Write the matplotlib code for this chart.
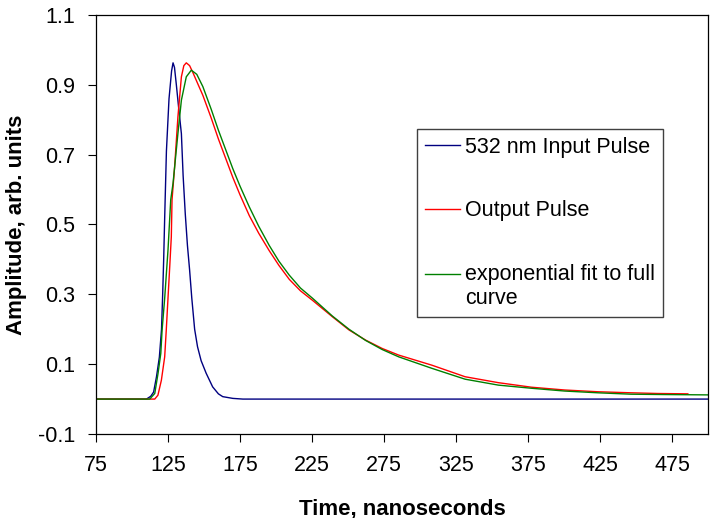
import numpy as np
import matplotlib
matplotlib.use('Agg')
import matplotlib.pyplot as plt

# values
blue_t = [75, 110, 113, 115, 117, 119, 120.5, 121.3, 122, 122.7, 123.9, 125.7, 127.5, 128.5,
          129.5, 130.8, 132.5, 134.3, 135.5, 137, 138.5, 140, 141.5, 143.5, 145.5, 148, 151.5,
          156, 160, 163, 170, 177, 500]
blue_a = [0, 0, 0.008, 0.02, 0.064, 0.12, 0.2, 0.3, 0.4, 0.52, 0.71, 0.86, 0.94, 0.963,
          0.95, 0.9, 0.83, 0.76, 0.64, 0.53, 0.44, 0.37, 0.29, 0.2, 0.15, 0.11, 0.074,
          0.035, 0.015, 0.007, 0.002, 0, 0]

red_t = [75, 115.8, 118, 120.4, 122.7, 123.8, 125, 126.2, 127.3, 127.8, 129.6, 131.9, 134.3,
         136, 137.7, 140, 142.3, 146, 149.2, 155, 160, 165, 170, 175, 181.5, 188, 195.3, 202,
         209.2, 217, 225.3, 239.1, 250.7, 262.2, 273.7, 285.2, 308.3, 331.3, 354.4, 377.4,
         400.5, 423.5, 446.6, 465, 486]
red_a = [0, 0, 0.011, 0.054, 0.121, 0.198, 0.289, 0.379, 0.465, 0.571, 0.665, 0.809, 0.923,
         0.955, 0.963, 0.955, 0.935, 0.9, 0.87, 0.805, 0.745, 0.69, 0.635, 0.585, 0.525, 0.475,
         0.425, 0.383, 0.343, 0.31, 0.283, 0.236, 0.198, 0.169, 0.145, 0.126, 0.097, 0.064,
         0.047, 0.034, 0.026, 0.021, 0.018, 0.016, 0.015]

green_t = [75, 112.3, 115.8, 118.1, 120, 120.9, 122.7, 125, 126.9, 128.5, 131.9, 134.3, 137.7,
           141.2, 145, 149.2, 155, 160, 165, 170, 175, 181.5, 188, 195.3, 202, 209.2, 217,
           225.3, 239.1, 250.7, 262.2, 273.7, 285.2, 308.3, 331.3, 354.4, 377.4, 400.5, 423.5,
           446.6, 470, 500]
green_a = [0, 0, 0.016, 0.074, 0.131, 0.198, 0.289, 0.427, 0.571, 0.618, 0.761, 0.856, 0.923,
           0.942, 0.93, 0.895, 0.83, 0.77, 0.715, 0.66, 0.61, 0.55, 0.495, 0.44, 0.395, 0.355,
           0.318, 0.289, 0.238, 0.2, 0.168, 0.142, 0.121, 0.088, 0.057, 0.04, 0.031, 0.023,
           0.018, 0.014, 0.013, 0.012]

labels = ['532 nm Input Pulse', 'Output Pulse', 'exponential fit to full\ncurve']
x_ticks = [75, 125, 175, 225, 275, 325, 375, 425, 475]
y_ticks = [-0.1, 0.1, 0.3, 0.5, 0.7, 0.9, 1.1]

plt.rcParams['font.family'] = ['Liberation Sans', 'DejaVu Sans']

fig = plt.figure(figsize=(7.1, 5.18), dpi=100)
ax = fig.add_axes([96 / 710, 1 - 434 / 518, 612 / 710, 419 / 518])

ax.plot(blue_t, blue_a, color='#000080', lw=1.0, label=labels[0])
ax.plot(red_t, red_a, color='#ff0000', lw=1.0, label=labels[1])
ax.plot(green_t, green_a, color='#008000', lw=1.0, label=labels[2])

ax.set_xlim(75, 500)
ax.set_ylim(-0.1, 1.1)
ax.set_xticks(x_ticks)
ax.set_yticks(y_ticks)
ax.set_yticklabels(['%.1f' % v for v in y_ticks])
ax.tick_params(direction='out', length=6, width=0.8, labelsize=15.5, pad=9)
for s in ax.spines.values():
    s.set_linewidth(0.9)

ax.set_xlabel('Time, nanoseconds', fontsize=16, fontweight='bold', labelpad=16)
ax.set_ylabel('Amplitude, arb. units', fontsize=16, fontweight='bold', labelpad=8)

leg = ax.legend(loc='upper left', bbox_to_anchor=((417 - 96) / 612, 1 - (129 - 15) / 419),
                borderaxespad=0, fontsize=15.5, frameon=True, fancybox=False,
                edgecolor='#404040', framealpha=1, handlelength=1.63, handletextpad=0.25,
                labelspacing=1.98, borderpad=0.35)
leg.get_frame().set_linewidth(1.0)
# line up the last handle with the first line of its two-line label
h = leg.legend_handles[2]
h.set_ydata(np.asarray(h.get_ydata()) + 9.4)

fig.savefig('out.png', dpi=100)
